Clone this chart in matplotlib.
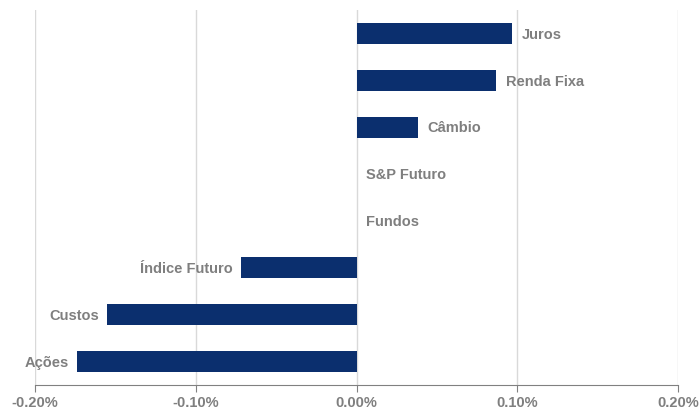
import matplotlib
matplotlib.use("Agg")
import matplotlib.pyplot as plt
from matplotlib.ticker import FuncFormatter

categories = ["Juros", "Renda Fixa", "Câmbio", "S&P Futuro", "Fundos",
              "Índice Futuro", "Custos", "Ações"]
values = [0.097, 0.087, 0.038, 0.0, 0.0, -0.072, -0.155, -0.174]  # in %
xticks = [-0.20, -0.10, 0.0, 0.10, 0.20]

bar_color = "#0b2f6e"
text_color = "#7f7f7f"
plt.rcParams["font.family"] = ["Liberation Sans", "DejaVu Sans"]

fig = plt.figure(figsize=(7, 4.12), dpi=100)
ax = fig.add_axes([0.05, 0.066, 0.9186, 0.91])

y = list(range(len(categories)))
ax.barh(y, values, height=0.45, color=bar_color, zorder=3)

for yi, v, lab in zip(y, values, categories):
    if v >= 0:
        ax.annotate(lab, (v, yi), xytext=(7, -1), textcoords="offset points",
                    ha="left", va="center", fontsize=10.5, fontweight="bold",
                    color=text_color)
    else:
        ax.annotate(lab, (v, yi), xytext=(-6, -1), textcoords="offset points",
                    ha="right", va="center", fontsize=10.5, fontweight="bold",
                    color=text_color)

ax.set_xlim(-0.20, 0.20)
ax.set_ylim(len(categories) - 0.5, -0.5)
ax.set_xticks(xticks)
ax.xaxis.set_major_formatter(FuncFormatter(lambda v, p: f"{v:.2f}%"))
ax.set_yticks([])
ax.grid(axis="x", color="#d9d9d9", linewidth=1, zorder=0)
for s in ["top", "right", "left"]:
    ax.spines[s].set_visible(False)
ax.spines["bottom"].set_color("#808080")
ax.tick_params(axis="x", colors="#808080", length=5, direction="out",
               labelcolor=text_color, labelsize=10.5, pad=3)
for t in ax.get_xticklabels():
    t.set_fontweight("bold")

fig.savefig("out.png", dpi=100)
